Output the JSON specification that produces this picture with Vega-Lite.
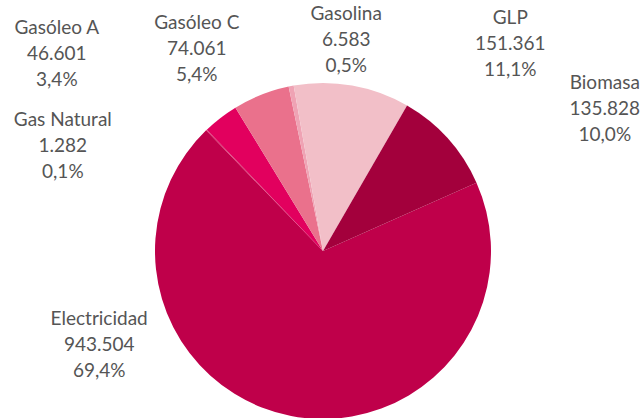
{
  "$schema": "https://vega.github.io/schema/vega-lite/v6.json",
  "width": 640,
  "height": 334,
  "autosize": "none",
  "padding": {"left": 3, "top": 84, "right": 0, "bottom": 0},
  "background": "white",
  "config": {
    "view": {"stroke": null},
    "locale": {"number": {"decimal": ",", "thousands": ".", "grouping": [3], "currency": ["", " €"]}}
  },
  "data": {
    "values": [
      {"orden": 1, "categoria": "Electricidad", "valor": 943504},
      {"orden": 2, "categoria": "Gas Natural", "valor": 1282},
      {"orden": 3, "categoria": "Gasóleo A", "valor": 46601},
      {"orden": 4, "categoria": "Gasóleo C", "valor": 74061},
      {"orden": 5, "categoria": "Gasolina", "valor": 6583},
      {"orden": 6, "categoria": "GLP", "valor": 151361},
      {"orden": 7, "categoria": "Biomasa", "valor": 135828}
    ]
  },
  "transform": [
    {"joinaggregate": [{"op": "sum", "field": "valor", "as": "total"}]},
    {"calculate": "datum.categoria + '\\n' + format(datum.valor, ',') + '\\n' + format(datum.valor / datum.total, '.1%')", "as": "etiqueta"}
  ],
  "encoding": {
    "theta": {"field": "valor", "type": "quantitative", "stack": true, "scale": {"range": [1.1519, 7.4351]}},
    "order": {"field": "orden", "type": "quantitative"}
  },
  "layer": [
    {
      "mark": {"type": "arc", "outerRadius": 168},
      "encoding": {
        "color": {
          "field": "categoria",
          "type": "nominal",
          "legend": null,
          "scale": {
            "domain": ["Electricidad", "Gas Natural", "Gasóleo A", "Gasóleo C", "Gasolina", "GLP", "Biomasa"],
            "range": ["#BF004A", "#D42466", "#E2005E", "#EA718C", "#EFA3B4", "#F2BFC8", "#A3003C"]
          }
        }
      }
    },
    {
      "mark": {
        "type": "text",
        "font": "Lato",
        "fontSize": 19,
        "lineHeight": 26,
        "lineBreak": "\n",
        "align": "center",
        "baseline": "middle",
        "color": "#555555",
        "radius": 215,
        "dx": {"expr": "datum.categoria == 'Electricidad' ? -183 : datum.categoria == 'Gas Natural' ? -111 : datum.categoria == 'Gasóleo A' ? -135 : datum.categoria == 'Gasóleo C' ? -47 : datum.categoria == 'Gasolina' ? 64 : datum.categoria == 'GLP' ? 150 : 122"},
        "dy": {"expr": "datum.categoria == 'Electricidad' ? -143 : datum.categoria == 'Gas Natural' ? 24 : datum.categoria == 'Gasóleo A' ? -53 : datum.categoria == 'Gasóleo C' ? -28 : datum.categoria == 'Gasolina' ? -26 : datum.categoria == 'GLP' ? -21 : -24"}
      },
      "encoding": {
        "text": {"field": "etiqueta", "type": "nominal"}
      }
    }
  ]
}
